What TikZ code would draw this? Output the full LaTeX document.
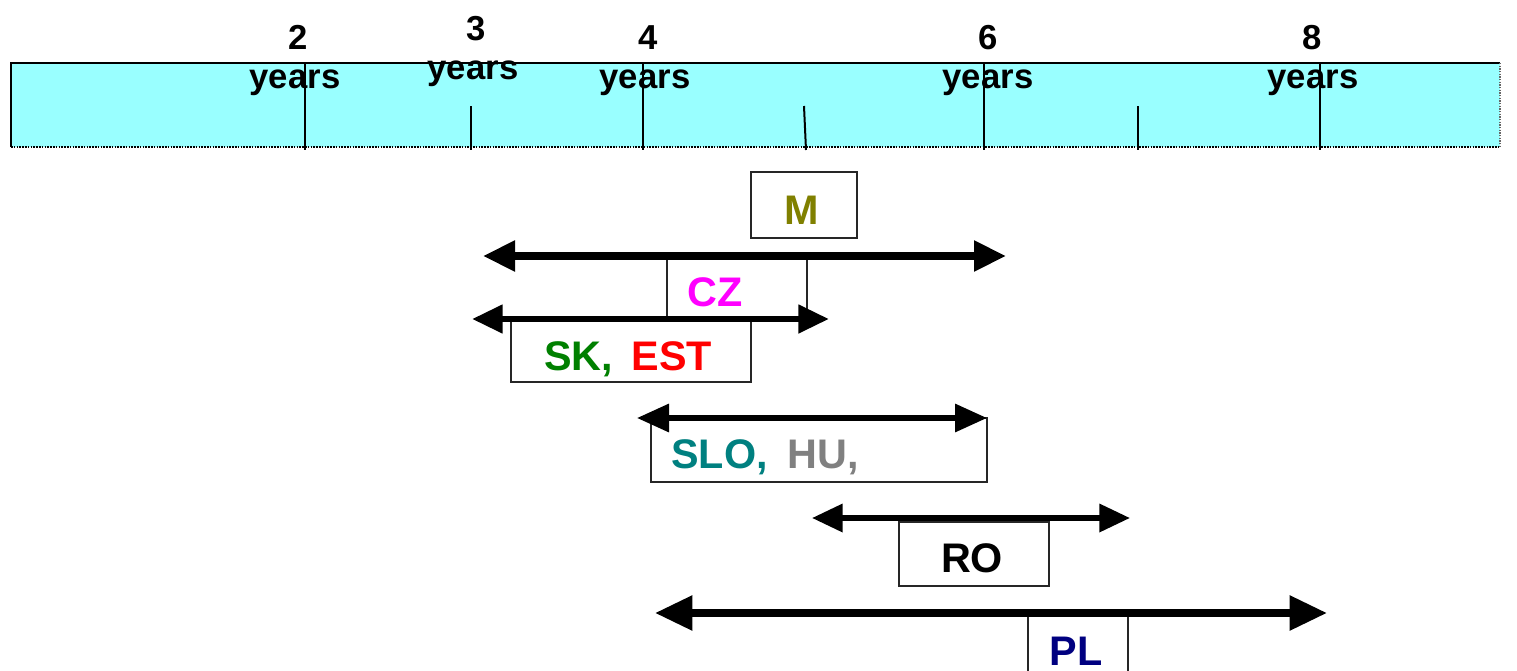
\documentclass[tikz,border=0pt]{standalone}
\usepackage{fontspec}
\setmainfont{Liberation Sans}
\usetikzlibrary{arrows.meta}
\definecolor{barcyan}{HTML}{99FFFF}
\definecolor{olivec}{HTML}{808000}
\definecolor{magc}{HTML}{FF00FF}
\definecolor{greenc}{HTML}{008000}
\definecolor{redc}{HTML}{FF0000}
\definecolor{tealc}{HTML}{008080}
\definecolor{greyc}{HTML}{808080}
\definecolor{navyc}{HTML}{000080}
\tikzset{
  box/.style={draw=black!85, line width=1.1pt, fill=white, inner sep=0pt, outer sep=0pt},
  lbl/.style={inner sep=0pt, anchor=base, font=\fontsize{31}{36}\selectfont\bfseries},
  yr/.style={inner sep=0pt, anchor=base, font=\fontsize{26}{30}\selectfont\bfseries},
  tick/.style={line width=1.5pt},
  span/.style 2 args={line width=#1, {Triangle[#2]}-{Triangle[#2]}},
}
\begin{document}
\begin{tikzpicture}[x=0.75pt,y=-0.75pt]
\useasboundingbox (0,0) rectangle (1517,671);

% time scale band
\node[fill=barcyan, inner sep=0pt, outer sep=0pt, minimum width=1116.75pt, minimum height=63pt] (band) at (755.5,105) {};
\draw[line width=1.1pt] (11,147) -- (11,63) -- (1500,63);
\draw[line width=1.1pt, dash pattern=on 1.2pt off 0.9pt] (11,147) -- (1500,147);
\draw[line width=1pt, black!60, dash pattern=on 1pt off 1pt] (1500,63) -- (1500,147);

% ticks: whole years long, odd years short
\foreach \x in {305,643,984,1320} \draw[tick] (\x,63) -- (\x,150);
\draw[tick] (471,106) -- (471,150);
\draw[tick] (804,106) -- (806,150);
\draw[tick] (1138,106) -- (1138,150);

% year labels (placed by baseline)
\node[yr] (n2) at (298,49) {2};
\node[yr] (y2) at (295,88) {years};
\node[yr] (n3) at (476,40) {3};
\node[yr] (y3) at (473,79) {years};
\node[yr] (n4) at (648,49) {4};
\node[yr] (y4) at (645,88) {years};
\node[yr] (n6) at (988,49) {6};
\node[yr] (y6) at (988,88) {years};
\node[yr] (n8) at (1312,49) {8};
\node[yr] (y8) at (1313,88) {years};

% country boxes
\node[box, minimum width=79.5pt, minimum height=49.5pt] (bM) at (804,205) {};
\node[box, minimum width=105pt, minimum height=48pt] (bCZ) at (737,288) {};
\node[box, minimum width=180pt, minimum height=46.5pt] (bSK) at (631,351) {};
\node[box, minimum width=252pt, minimum height=48pt] (bSLO) at (819,450) {};
\node[box, minimum width=112.5pt, minimum height=48pt] (bRO) at (974,554) {};
\node[box, minimum width=75pt, minimum height=60pt] (bPL) at (1078,652) {};

\node[lbl, text=olivec] (tM) at (802,224) {M};
\node[lbl, text=magc] (tCZ) at (715,306) {CZ};
\node[lbl] (tSK) at (628,370) {\textcolor{greenc}{SK,}\hspace{14pt}\textcolor{redc}{EST}};
\node[lbl, anchor=base west] (tSLO) at (671,468) {\textcolor{tealc}{SLO,}\hspace{15pt}\textcolor{greyc}{HU,}};
\node[lbl] (tRO) at (972,572) {RO};
\node[lbl, text=navyc] (tPL) at (1076,665) {PL};

% duration ranges
\coordinate (a1l) at (483,256); \coordinate (a1r) at (1006,256);
\coordinate (a2l) at (472,319); \coordinate (a2r) at (829,319);
\coordinate (a3l) at (637,418); \coordinate (a3r) at (987,418);
\coordinate (a4l) at (812,518); \coordinate (a4r) at (1130,518);
\coordinate (a5l) at (655,613); \coordinate (a5r) at (1327,613);
\draw[span={5.6pt}{length=24pt,width=22pt}] (a1l) -- (a1r);
\draw[span={5pt}{length=23pt,width=20.5pt}] (a2l) -- (a2r);
\draw[span={4pt}{length=24pt,width=20.5pt}] (a3l) -- (a3r);
\draw[span={4.2pt}{length=23pt,width=20.5pt}] (a4l) -- (a4r);
\draw[span={5.7pt}{length=28pt,width=25pt}] (a5l) -- (a5r);
\end{tikzpicture}
\end{document}
